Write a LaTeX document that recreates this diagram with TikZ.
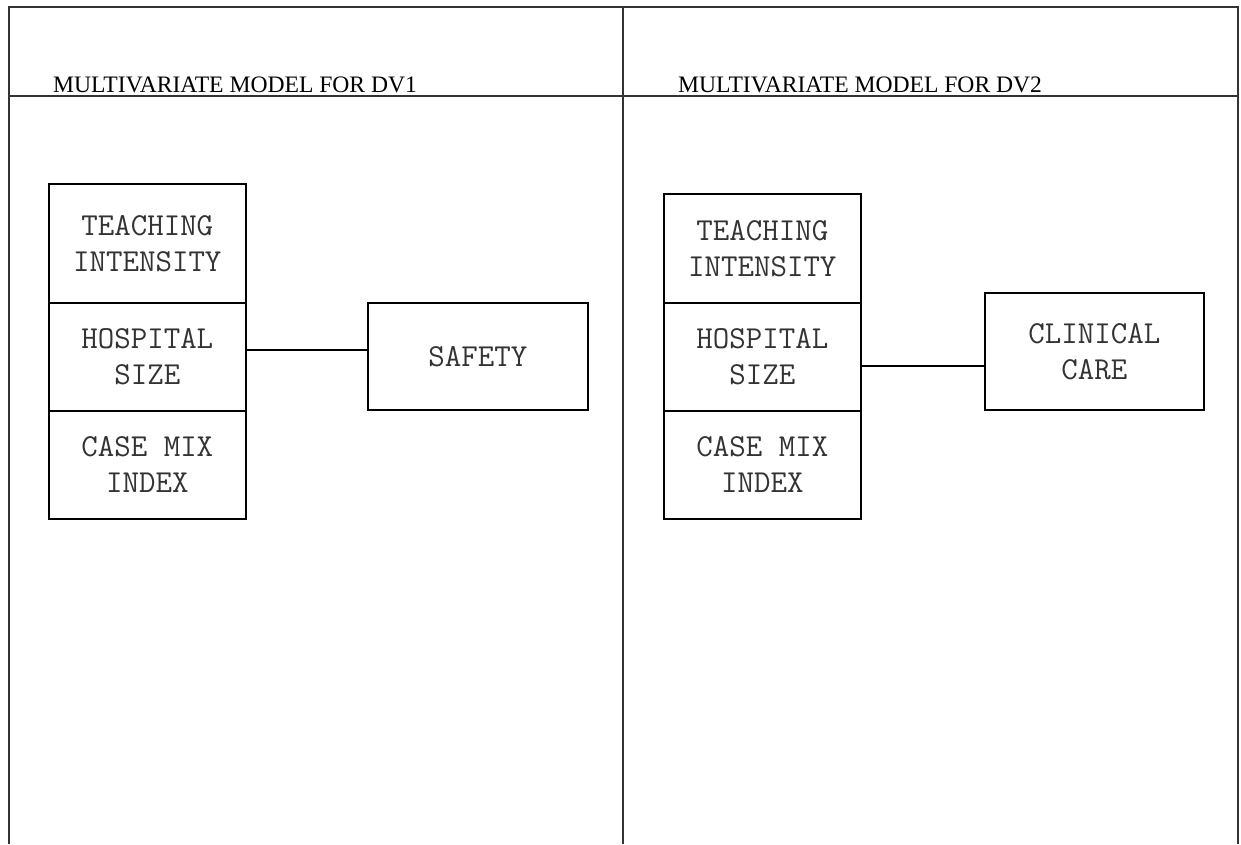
\documentclass[tikz,border=0pt]{standalone}
\usepackage{fontspec}
\setmainfont{Liberation Serif}
\begin{document}
\begin{tikzpicture}[x=1pt,y=-1pt,
  rule/.style={line width=1.6pt, draw=black!80},
  title/.style={anchor=base west, inner sep=0pt, font=\fontsize{23.6}{27}\selectfont},
  boxtext/.style={align=center, text=black!80,
    font=\ttfamily\fontsize{32}{36}\selectfont},
  varbox/.style={draw=black, line width=1.6pt, anchor=north west, inner sep=0pt,
    minimum width=197pt, boxtext},
  dvbox/.style={draw=black, line width=1.6pt, anchor=north west, inner sep=0pt,
    boxtext},
  link/.style={line width=1.6pt, draw=black}]
\useasboundingbox (0,0) rectangle (1241,844);

% frame, column divider and heading rule
\draw[rule] (9,844) -- (9,7) -- (1238,7) -- (1238,844);
\draw[rule] (623,7) -- (623,844);
\draw[rule] (9,96) -- (1238,96);

% headings
\node[title] (t1) at (53,92) {MULTIVARIATE MODEL FOR DV1};
\node[title] (t2) at (678,92) {MULTIVARIATE MODEL FOR DV2};

% model for DV1
\node[varbox, minimum height=119pt] (ti1) at (48,183) {TEACHING\\INTENSITY};
\node[varbox, minimum height=108pt] (hs1) at (48,302) {HOSPITAL\\SIZE};
\node[varbox, minimum height=108pt] (cm1) at (48,410) {CASE MIX\\INDEX};
\node[dvbox, minimum width=220pt, minimum height=107pt] (dv1) at (367,302) {SAFETY};
\draw[link] ([yshift=7pt]hs1.east) -- ([yshift=7pt]hs1.east -| dv1.west);

% model for DV2
\node[varbox, minimum height=109pt] (ti2) at (663,193) {TEACHING\\INTENSITY};
\node[varbox, minimum height=108pt] (hs2) at (663,302) {HOSPITAL\\SIZE};
\node[varbox, minimum height=108pt] (cm2) at (663,410) {CASE MIX\\INDEX};
\node[dvbox, minimum width=219pt, minimum height=117pt] (dv2) at (984,292) {CLINICAL\\CARE};
\draw[link] ([yshift=-9pt]hs2.east) -- ([yshift=-9pt]hs2.east -| dv2.west);
\end{tikzpicture}
\end{document}
